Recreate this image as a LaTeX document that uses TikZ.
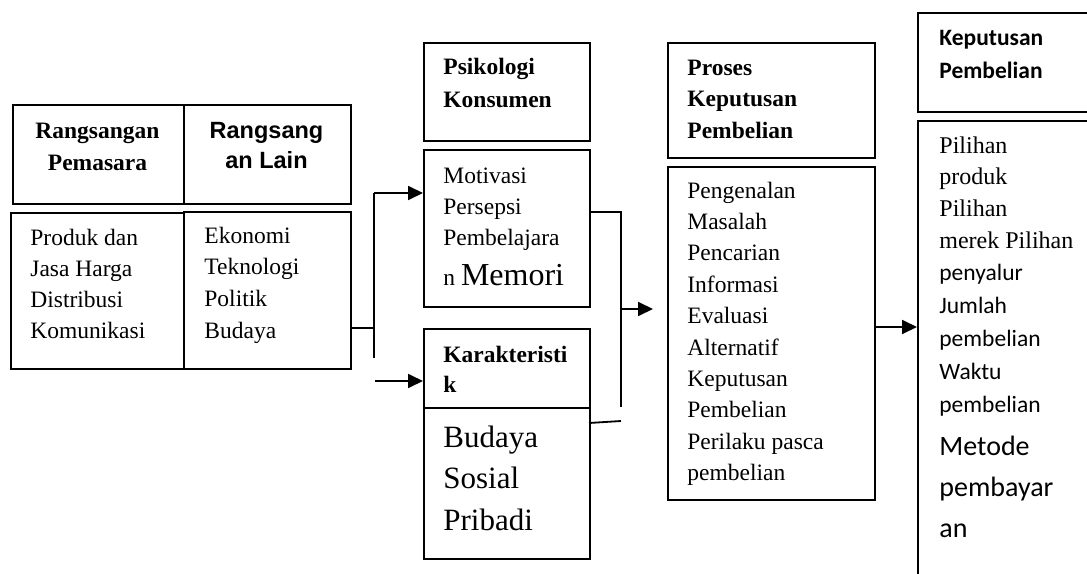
\documentclass[tikz,border=0pt]{standalone}
\usepackage{fontspec}
\setmainfont{Liberation Serif}
\newfontfamily\arialf{Liberation Sans}
\newfontfamily\calf{Carlito}
\usetikzlibrary{arrows.meta}
\begin{document}
\begin{tikzpicture}[x=0.5pt,y=-0.5pt,
  box/.style={draw,line width=0.9pt,inner sep=0pt,anchor=north west},
  txt/.style={inner sep=0pt,anchor=base west,font=\fontsize{11.75}{14}\selectfont},
  txtc/.style={txt,anchor=base},
  big/.style={inner sep=0pt,anchor=base west,font=\fontsize{15.5}{18}\selectfont},
  cal/.style={inner sep=0pt,anchor=base west,font=\calf\fontsize{11.75}{14}\selectfont},
  calbig/.style={inner sep=0pt,anchor=base west,font=\calf\fontsize{14}{17}\selectfont},
  conn/.style={line width=0.9pt},
  arr/.style={line width=0.9pt,-{Triangle[length=7.5pt,width=7pt]}}]
\useasboundingbox (0,0) rectangle (1087,573);
\clip (0,0) rectangle (1087,573);
% boxes
\node[box,minimum width=85.5pt,minimum height=49.5pt] (b1) at (12,104) {};
\node[box,minimum width=83.5pt,minimum height=49.5pt] (b2) at (183,104) {};
\node[box,minimum width=86.5pt,minimum height=78pt] (b3) at (10,212) {};
\node[box,minimum width=83.5pt,minimum height=78.5pt] (b4) at (183,211) {};
\node[box,minimum width=83pt,minimum height=49pt] (psi) at (423,42) {};
\node[box,minimum width=83pt,minimum height=78.5pt] (mot) at (423,149) {};
\node[box,minimum width=83pt,minimum height=39.5pt] (kar) at (423,328) {};
\node[box,minimum width=83pt,minimum height=75.5pt] (bud) at (423,407) {};
\node[box,minimum width=103.5pt,minimum height=57.5pt] (pro) at (667,42) {};
\node[box,minimum width=103.5pt,minimum height=166.5pt] (prs) at (667,166) {};
\node[box,minimum width=110pt,minimum height=49.5pt] (kep) at (917,12) {};
\node[box,minimum width=110pt,minimum height=250pt] (pil) at (917,120) {};
% texts
\node[txtc,font=\bfseries\fontsize{11.75}{14}\selectfont] (t1a) at (97.5,138) {Rangsangan};
\node[txtc,font=\bfseries\fontsize{11.75}{14}\selectfont] (t1b) at (97.5,170) {Pemasara};
\node[txtc,font=\arialf\bfseries\fontsize{11.75}{14}\selectfont] (t2a) at (266.5,138) {Rangsang};
\node[txtc,font=\arialf\bfseries\fontsize{11.75}{14}\selectfont] (t2b) at (266.5,168) {an Lain};
\foreach \t [count=\i] in {Produk dan,Jasa Harga,Distribusi,Komunikasi}
  \node[txt] (t3-\i) at (30,{245+(\i-1)*31.3}) {\t};
\foreach \t [count=\i] in {Ekonomi,Teknologi,Politik,Budaya}
  \node[txt] (t4-\i) at (204,{243+(\i-1)*31.7}) {\t};
\node[txt,font=\bfseries\fontsize{11.75}{14}\selectfont] (t5a) at (443,74) {Psikologi};
\node[txt,font=\bfseries\fontsize{11.75}{14}\selectfont] (t5b) at (443,107) {Konsumen};
\foreach \t [count=\i] in {Motivasi,Persepsi,Pembelajara}
  \node[txt] (t6-\i) at (443,{183+(\i-1)*31}) {\t};
\node[txt] (t6-4) at (443,285) {n {\fontsize{16}{18}\selectfont Memori}};
\node[txt,font=\bfseries\fontsize{11.75}{14}\selectfont] (t7a) at (443,362) {Karakteristi};
\node[txt,font=\bfseries\fontsize{11.75}{14}\selectfont] (t7b) at (443,392) {k};
\foreach \t [count=\i] in {Budaya,Sosial,Pribadi}
  \node[big] (t8-\i) at (443,{447+(\i-1)*41.5}) {\t};
\foreach \t [count=\i] in {Proses,Keputusan,Pembelian}
  \node[txt,font=\bfseries\fontsize{11.75}{14}\selectfont] (t9-\i) at (687,{75+(\i-1)*31.5}) {\t};
\foreach \t [count=\i] in {Pengenalan,Masalah,Pencarian,Informasi,Evaluasi,Alternatif,Keputusan,Pembelian,Perilaku pasca,pembelian}
  \node[txt] (t10-\i) at (687,{198+(\i-1)*31.4}) {\t};
\node[cal,font=\calf\bfseries\fontsize{11.75}{14}\selectfont] (t11a) at (939,45) {Keputusan};
\node[cal,font=\calf\bfseries\fontsize{11.75}{14}\selectfont] (t11b) at (939,78) {Pembelian};
\foreach \t [count=\i] in {Pilihan,produk,Pilihan,merek Pilihan}
  \node[txt,font=\fontsize{12}{14}\selectfont] (t12-\i) at (939,{153+(\i-1)*31.7}) {\t};
\foreach \t [count=\i] in {penyalur,Jumlah,pembelian,Waktu,pembelian}
  \node[cal] (t13-\i) at (939,{280+(\i-1)*33}) {\t};
\foreach \t [count=\i] in {Metode,pembayar,an}
  \node[calbig] (t14-\i) at (939,{455+(\i-1)*41}) {\t};
% connectors
\coordinate (j1) at (374,328);
\coordinate (jt) at (374,193);
\coordinate (jb) at (374,358);
\coordinate (ks) at (375,381);
\draw[conn] (b4.east |- j1) -- (j1);
\draw[conn] (jt) -- (jb);
\draw[arr] (jt) -- (jt -| mot.west);
\draw[arr] (ks) -- (ks -| kar.west);
\coordinate (m1) at (621,212);
\coordinate (m2) at (621,407);
\draw[conn] (mot.east |- m1) -- (m1) -- (m2);
\coordinate (n1) at (589,423);
\coordinate (n2) at (621,421);
\draw[conn] (n1) -- (n2);
\coordinate (a1) at (621,309);
\coordinate (a2) at (653,309);
\draw[arr] (a1) -- (a2);
\coordinate (p1) at (874,327);
\draw[arr] (prs.east |- p1) -- (p1 -| pil.west);
\end{tikzpicture}
\end{document}
